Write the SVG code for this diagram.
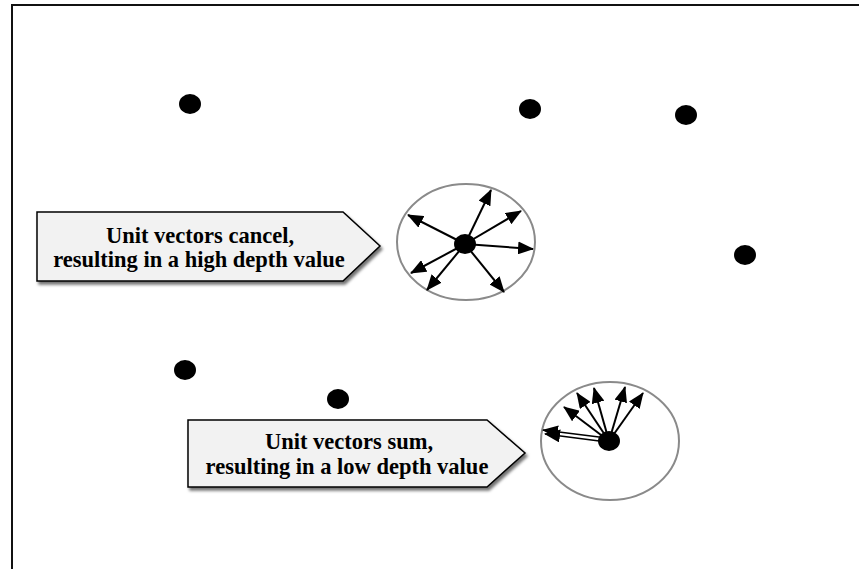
<svg xmlns="http://www.w3.org/2000/svg" width="859" height="569" viewBox="0 0 859 569">
  <style>
    .pt { fill: #000; }
    .ring { fill: none; stroke: #8a8a8a; stroke-width: 2; }
    .vec { stroke: #000; stroke-width: 2; fill: none; marker-end: url(#head); }
    .vec2 { stroke: #000; stroke-width: 1.6; fill: none; marker-end: url(#head); }
    .callout { fill: #f2f2f2; stroke: #000; stroke-width: 1.5; filter: url(#shadow); }
    .lbl { font-family: "Liberation Serif", "Times New Roman", serif; font-weight: bold; font-size: 22.5px; fill: #000; text-anchor: middle; }
  </style>
  <defs>
    <marker id="head" markerUnits="userSpaceOnUse" markerWidth="16" markerHeight="13" refX="15" refY="6.5" orient="auto">
      <path d="M0,0 L16,6.5 L0,13 Z" fill="#000"/>
    </marker>
    <filter id="shadow" x="-5%" y="-10%" width="115%" height="130%">
      <feDropShadow dx="2" dy="3" stdDeviation="1.5" flood-color="#000" flood-opacity="0.55"/>
    </filter>
  </defs>

  <!-- frame -->
  <path d="M12,569 V5 H859" fill="none" stroke="#111" stroke-width="2"/>

  <!-- scattered sample points -->
  <g id="p1"><ellipse class="pt" cx="190" cy="104" rx="11" ry="10"/></g>
  <g id="p2"><ellipse class="pt" cx="530" cy="109" rx="11" ry="10"/></g>
  <g id="p3"><ellipse class="pt" cx="686" cy="115" rx="11" ry="10"/></g>
  <g id="p4"><ellipse class="pt" cx="745" cy="255" rx="11" ry="10"/></g>
  <g id="p5"><ellipse class="pt" cx="185" cy="370" rx="11" ry="10"/></g>
  <g id="p6"><ellipse class="pt" cx="338" cy="399" rx="11" ry="10"/></g>

  <!-- neighbourhood rings -->
  <g id="ring-high"><ellipse class="ring" cx="466" cy="242" rx="69" ry="58"/></g>
  <g id="ring-low"><ellipse class="ring" cx="610" cy="441" rx="69" ry="59"/></g>

  <!-- unit vectors -->
  <g id="vectors">
    <line class="vec" x1="465" y1="244" x2="491" y2="190"/>
    <line class="vec" x1="465" y1="244" x2="521" y2="211"/>
    <line class="vec" x1="465" y1="244" x2="533" y2="249"/>
    <line class="vec" x1="465" y1="244" x2="504" y2="292"/>
    <line class="vec" x1="465" y1="244" x2="427" y2="290"/>
    <line class="vec" x1="465" y1="244" x2="411" y2="273"/>
    <line class="vec" x1="465" y1="244" x2="408" y2="215"/>

    <line class="vec2" x1="607" y1="438" x2="543" y2="430"/>
    <line class="vec2" x1="607" y1="442" x2="545" y2="434"/>
    <line class="vec" x1="609" y1="441" x2="564" y2="407"/>
    <line class="vec" x1="609" y1="441" x2="577" y2="393"/>
    <line class="vec" x1="609" y1="441" x2="594" y2="388"/>
    <line class="vec" x1="609" y1="441" x2="625" y2="387"/>
    <line class="vec" x1="609" y1="441" x2="643" y2="393"/>
  </g>

  <!-- centre points of the rings -->
  <g id="c-high"><ellipse class="pt" cx="465" cy="244" rx="11" ry="10"/></g>
  <g id="c-low"><ellipse class="pt" cx="609" cy="441" rx="11" ry="10"/></g>

  <!-- callouts -->
  <g id="callout-high">
    <path class="callout" d="M37,212 H343 L380,246 L343,281 H37 Z"/>
    <text class="lbl" x="200" y="243">Unit vectors cancel,</text>
    <text class="lbl" x="199" y="267">resulting in a high depth value</text>
  </g>
  <g id="callout-low">
    <path class="callout" d="M188,420 H487 L525,453 L487,487 H188 Z"/>
    <text class="lbl" x="349" y="449">Unit vectors sum,</text>
    <text class="lbl" x="347" y="474">resulting in a low depth value</text>
  </g>
</svg>
